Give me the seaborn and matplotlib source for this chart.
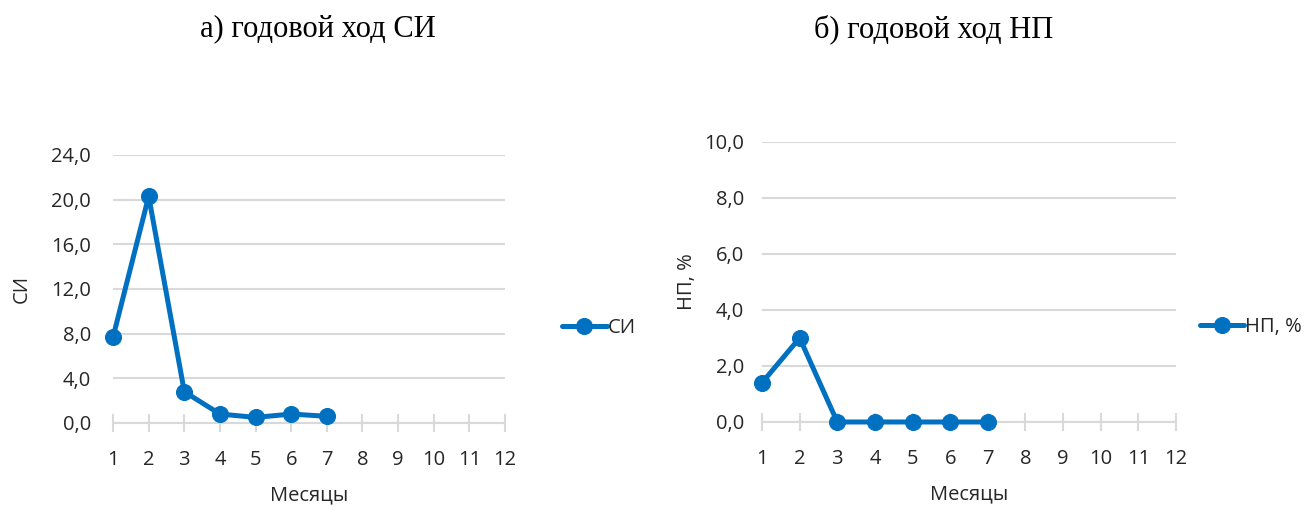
import numpy as np
import pandas as pd
import matplotlib
matplotlib.use('Agg')
import matplotlib.pyplot as plt
import seaborn as sns

months = np.arange(1, 8)
all_months = list(range(1, 13))
si_values = [7.7, 20.3, 2.8, 0.8, 0.5, 0.8, 0.6]
np_values = [1.4, 3.0, 0.0, 0.0, 0.0, 0.0, 0.0]
si_yticks = [0, 4, 8, 12, 16, 20, 24]
np_yticks = [0, 2, 4, 6, 8, 10]
titles = ['а) годовой ход СИ', 'б) годовой ход НП']
ylabels = ['СИ', 'НП, %']
xlabel = 'Месяцы'

sns.set_style('white')
plt.rcParams['font.family'] = ['Open Sans', 'DejaVu Sans']

blue = '#0070C0'
grid = '#D9D9D9'
txt = '#262626'
fs = 14.5

fig = plt.figure(figsize=(13.07, 5.07), dpi=100)
ax1 = fig.add_axes([0.0865, 0.1657, 0.2999, 0.5286])
ax2 = fig.add_axes([0.583, 0.1677, 0.3168, 0.5523])

# (axes, values, yticks, label, ytick pad, ylabel pad)
for ax, vals, yt, yl, ypad, lpad in [(ax1, si_values, si_yticks, ylabels[0], 16, 14),
                                     (ax2, np_values, np_yticks, ylabels[1], 13, 5)]:
    df = pd.DataFrame({'month': months, 'value': vals})
    sns.lineplot(data=df, x='month', y='value', ax=ax, color=blue, marker='o',
                 markersize=11.5, linewidth=3.6, markeredgecolor=blue, label=yl,
                 clip_on=False, zorder=5)
    ax.set_xlim(1, 12)
    ax.set_ylim(yt[0], yt[-1])
    ax.set_xticks(all_months)
    ax.set_yticks(yt)
    ax.set_yticklabels([f'{v:.1f}'.replace('.', ',') for v in yt])
    ax.yaxis.grid(True, color=grid, linewidth=1.5)
    ax.xaxis.grid(False)
    for s in ['top', 'right', 'left']:
        ax.spines[s].set_visible(False)
    ax.spines['bottom'].set_color(grid)
    ax.spines['bottom'].set_linewidth(1.5)
    ax.tick_params(axis='x', bottom=True, direction='inout', length=13, width=1.5,
                   color=grid, labelsize=fs, pad=13, labelcolor=txt)
    ax.tick_params(axis='y', left=False, length=0, labelsize=fs, pad=ypad, labelcolor=txt)
    ax.set_xlabel(xlabel, fontsize=fs, color=txt, labelpad=11)
    ax.set_ylabel(yl, fontsize=fs, color=txt, labelpad=lpad)

ax1.legend(loc='center left', bbox_to_anchor=(1.10, 0.355), frameon=False,
           fontsize=fs, handlelength=2.2, handletextpad=0.05, labelcolor=txt)
ax2.legend(loc='center left', bbox_to_anchor=(1.014, 0.34), frameon=False,
           fontsize=fs, handlelength=2.2, handletextpad=0.05, labelcolor=txt)

serif = ['Liberation Serif', 'DejaVu Serif']
fig.text(0.243, 0.943, titles[0], ha='center', va='center', fontsize=22,
         family=serif, color='black')
fig.text(0.714, 0.943, titles[1], ha='center', va='center', fontsize=22,
         family=serif, color='black')

fig.savefig('out.png', dpi=100)
